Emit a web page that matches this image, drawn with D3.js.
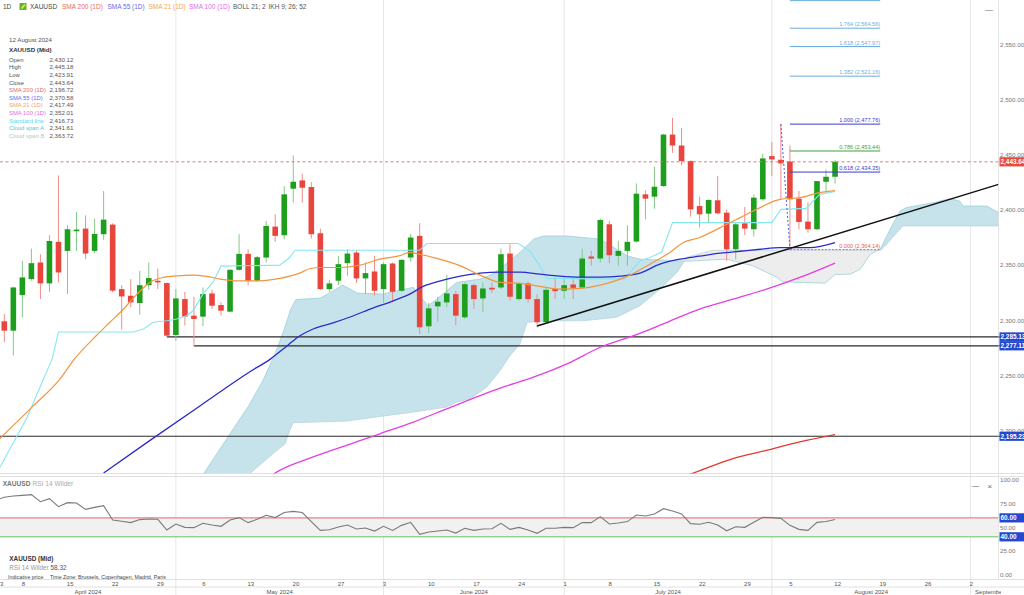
<!DOCTYPE html>
<html>
<head>
<meta charset="utf-8">
<script src="https://cdn.jsdelivr.net/npm/d3@7"></script>
<style>
  body { margin: 0; background: #fff; overflow: hidden; }
  svg { display: block; font-family: "Liberation Sans", Arial, sans-serif; }
</style>
</head>
<body>
<div id="chart"></div>
<script>
// ---- data ----
// candle index 0 = 4 April 2024, one index per trading day
const openP  = [2299.3,2290.8,2323.0,2337.5,2352.5,2333.6,2371.2,2363.0,2380.8,2383.2,2363.0,2378.1,2386.8,2328.4,2322.4,2315.8,2332.0,2336.0,2333.9,2286.9,2319.4,2304.4,2303.5,2324.5,2314.0,2308.0,2345.9,2360.3,2336.0,2357.0,2385.0,2377.2,2419.3,2426.8,2420.8,2379.0,2328.4,2336.0,2351.9,2361.5,2338.1,2344.4,2328.4,2351.6,2326.9,2357.0,2376.6,2294.8,2312.8,2316.4,2323.9,2302.9,2332.0,2320.0,2329.6,2329.9,2360.6,2319.4,2333.6,2319.4,2298.4,2328.4,2326.9,2332.6,2329.9,2357.9,2356.1,2387.1,2358.5,2363.0,2371.5,2414.2,2412.1,2421.7,2468.3,2458.4,2444.3,2403.6,2396.7,2408.8,2397.6,2364.5,2388.0,2382.6,2409.7,2448.8,2445.5,2443.9,2410.3,2389.5,2382.6,2425.6,2430.12];
const highP  = [2305.9,2330.5,2354.0,2365.1,2360.0,2377.2,2431.3,2386.2,2398.2,2395.2,2392.2,2417.2,2388.0,2332.0,2337.5,2345.0,2352.5,2347.1,2334.5,2328.4,2326.0,2321.5,2330.0,2328.0,2316.4,2346.5,2378.1,2364.5,2358.5,2390.1,2396.1,2421.7,2449.4,2432.8,2425.3,2383.2,2336.9,2358.5,2364.5,2363.9,2352.5,2358.5,2352.5,2352.5,2355.5,2378.1,2388.0,2315.8,2321.5,2341.1,2326.9,2334.5,2333.6,2334.5,2334.5,2365.1,2369.0,2335.1,2335.1,2323.9,2330.0,2339.0,2339.0,2337.5,2365.1,2363.0,2392.2,2390.1,2372.1,2386.2,2424.1,2417.8,2439.1,2469.0,2483.4,2474.3,2445.0,2412.1,2409.7,2430.7,2400.6,2388.6,2402.7,2414.2,2450.9,2461.7,2477.76,2458.4,2417.2,2406.7,2426.2,2436.7,2445.18];
const lowP   = [2280.3,2268.3,2302.9,2336.0,2319.4,2326.0,2334.5,2324.0,2363.0,2355.5,2361.0,2373.0,2325.4,2291.7,2311.9,2305.3,2327.8,2328.4,2285.13,2281.8,2295.4,2277.11,2295.0,2310.4,2304.4,2307.4,2345.0,2332.1,2335.1,2352.5,2371.2,2373.6,2406.7,2406.7,2374.2,2327.8,2326.0,2332.1,2340.5,2333.9,2323.9,2322.4,2316.4,2316.4,2326.0,2353.1,2287.9,2288.7,2299.0,2311.9,2295.9,2301.4,2310.4,2307.4,2324.8,2328.4,2317.9,2317.9,2316.4,2293.9,2296.9,2319.4,2319.4,2319.4,2328.4,2349.5,2352.5,2351.9,2349.5,2349.5,2370.6,2391.6,2401.2,2421.1,2451.8,2440.4,2394.0,2384.1,2388.6,2396.0,2354.0,2355.5,2377.2,2376.0,2408.2,2430.7,2409.7,2364.14,2382.6,2379.6,2382.0,2415.7,2423.91];
const closeP = [2290.8,2329.9,2339.0,2351.9,2333.6,2372.0,2343.5,2382.6,2382.3,2360.6,2378.4,2391.3,2327.0,2321.8,2316.4,2332.0,2338.4,2334.5,2286.3,2320.0,2303.5,2301.4,2323.9,2313.4,2308.9,2345.9,2360.3,2336.0,2357.3,2385.6,2376.6,2414.2,2425.6,2420.2,2378.1,2328.4,2333.6,2351.0,2360.6,2338.1,2342.9,2326.9,2351.0,2326.0,2354.9,2375.1,2293.9,2311.0,2317.0,2324.5,2304.4,2332.9,2319.4,2329.0,2328.1,2360.0,2321.5,2333.6,2319.4,2298.4,2327.8,2326.6,2332.0,2329.6,2356.1,2356.1,2391.0,2359.1,2363.0,2371.2,2414.8,2410.3,2421.1,2468.3,2458.4,2444.3,2400.6,2396.1,2409.1,2397.0,2364.5,2387.1,2383.2,2411.2,2446.7,2445.8,2442.2,2409.7,2389.2,2382.6,2426.2,2430.1,2443.64];

// indicator lines as [candle index, price]
const sma200 = [[75.9,2160.6],[77.6,2166.0],[80.7,2175.1],[84.4,2182.5],[88.1,2190.1],[92,2196.72]];
const sma55 = [[11,2162],[16.1,2191.3],[21.7,2222.9],[27.2,2253.6],[29.5,2265.3],[31.3,2277.0],[32.7,2286.0],[34.2,2292.3],[36.4,2297.8],[38.6,2304.1],[40.8,2311.3],[43,2317.6],[45.3,2325.7],[46,2329.3],[48.2,2335.6],[50.5,2340.2],[52.7,2342.9],[54.9,2343.8],[57.1,2343.8],[59.3,2342.0],[61.5,2340.2],[63.8,2339.3],[66,2339.3],[68.2,2340.2],[70.4,2342.9],[72.6,2351.0],[74.8,2355.5],[77,2358.2],[79.3,2360.9],[81.5,2362.7],[83.7,2364.5],[85.9,2366.0],[87.8,2366.0],[89.2,2366.0],[92,2370.58]];
const sma21 = [[-0.5,2193.2],[2.9,2220.3],[6.2,2247.4],[7.8,2265.4],[10.2,2286.4],[11.7,2298.4],[13.2,2310.4],[14.7,2323.9],[16.1,2334.5],[17.6,2339.0],[19.1,2340.4],[20.9,2341.1],[22.4,2339.9],[23.9,2337.5],[26.1,2335.9],[28.3,2335.9],[30.5,2338.1],[32.7,2342.9],[33.9,2347.1],[35,2348.0],[37.2,2348.0],[39.4,2350.1],[41.6,2355.5],[43.8,2358.7],[44.9,2361.6],[46,2360.0],[48.2,2355.5],[50.5,2349.5],[52.7,2341.1],[54.9,2334.5],[57.1,2333.6],[59.3,2330.9],[61.5,2328.4],[63.8,2329.1],[66,2332.0],[68.2,2337.5],[69.3,2341.1],[71.5,2351.0],[73.7,2361.6],[75.2,2370.6],[77,2375.1],[79.3,2384.1],[81.5,2393.1],[83.7,2402.2],[85.9,2409.7],[88.1,2411.2],[90.3,2415.7],[92,2417.49]];
const sma100 = [[29.4,2158.8],[30.2,2163.0],[34.2,2176.5],[37.9,2187.0],[41.6,2197.5],[45.3,2208.1],[49,2220.1],[52.7,2232.1],[54.9,2238.8],[58.6,2248.7],[62.3,2260.7],[66,2275.8],[69.7,2286.3],[73.4,2298.4],[77,2310.4],[80.7,2319.4],[84.4,2328.4],[88.1,2339.0],[92,2352.01]];
const standardLine = [[-0.5,2167],[2.5,2212],[5.3,2265.3],[6,2289.6],[14.3,2289.6],[15.4,2292.3],[16.5,2298.4],[18,2299.8],[19.1,2301.4],[20.2,2304.3],[20.9,2308.8],[22,2323.9],[23.1,2334.5],[24,2349.2],[30.5,2350.1],[31.6,2357.0],[32.2,2363.6],[46,2363.6],[46.8,2369.7],[56.9,2369.7],[58.2,2363.0],[59.3,2349.5],[60.1,2338.1],[68.7,2337.5],[69.3,2343.5],[70.4,2354.0],[71.5,2357.0],[72.8,2362],[74,2388.6],[85,2388.6],[86,2400.6],[88.8,2401.5],[90.3,2414.2],[92,2416.73]];
const spanA = [[21,2140],[22.2,2163],[25,2197.6],[27,2222],[28.6,2245],[30,2270],[31,2292],[31.7,2310],[32.3,2319],[35,2320.3],[37.5,2332],[39.1,2324.8],[41.9,2323.9],[45.3,2330],[46.9,2313.4],[47.9,2319.4],[49,2326.9],[50.1,2334.5],[52.7,2337.5],[54.1,2342],[56,2354],[57.1,2361.6],[58.6,2373.6],[59.7,2376.5],[62.3,2376.5],[66,2373.6],[69,2358.5],[70.4,2355.5],[75.6,2353.7],[80,2355.5],[82.9,2349.5],[85.6,2339],[86.2,2335],[90.9,2333.8],[92,2341.61],[93.7,2342],[94.8,2346.5],[95.9,2360],[97,2364.5],[98.1,2382.6],[99.2,2399.1],[99.9,2402.2],[102.9,2406.7],[104.7,2410.3],[105.8,2408.1],[106.2,2403.6],[108.8,2403.6],[110.5,2396]];
const spanB = [[21,2100],[26.1,2147.9],[27.4,2163],[30.2,2182.5],[31.1,2188.5],[31.6,2200.5],[32,2207.5],[34.2,2208.1],[37.9,2209],[41.6,2213.2],[45.3,2217.1],[49,2221.7],[50.1,2226.2],[51.6,2229.2],[53.4,2239.7],[54.9,2254.7],[56,2268.2],[57.1,2278.8],[57.9,2298.4],[60.4,2299.8],[64.1,2299.8],[67.8,2302.9],[70.4,2313.4],[72.6,2328.4],[74.5,2343.5],[75.6,2357.3],[78.5,2363.6],[92,2363.72],[97,2363.6],[97.2,2364.5],[99.5,2385.6],[110.5,2385.6]];

// RSI 14 Wilder, first value is 3 April (index -1)
const rsi = [78.5,81.7,83.1,83.8,84.5,77.1,80.3,71.8,76.1,75.7,69.0,71.1,72.9,57.8,56.4,55.0,58.2,58.8,58.5,47.2,53.5,50.0,49.7,54.3,52.5,51.1,57.8,60.3,55.0,58.5,62.7,60.3,65.6,66.9,65.6,56.1,46.8,47.5,50.4,52.5,48.3,49.3,46.1,51.1,46.8,52.1,55.3,42.6,45.1,46.1,47.2,44.0,49.0,46.8,48.3,48.6,54.3,47.9,50.0,47.2,43.7,49.0,49.0,50.0,49.7,55.0,55.0,61.3,53.5,54.6,56.1,63.0,62.0,64.1,69.7,67.3,64.1,53.9,53.2,55.3,52.5,46.4,50.7,50.0,55.3,60.6,60.3,59.5,52.1,47.9,46.8,55.3,56.1,58.32];

// horizontal levels, trend line, fibonacci
const supportPrices = [2285.13, 2277.11, 2195.23];
const supportStart  = [18, 21, -2];
const trendPts = [[59, 2295.0], [110.1, 2423.2]];
const fibLevels = [2, 1.764, 1.618, 1.382, 1, 0.786, 0.618, 0];
const fibPrices = [2591.38, 2564.56, 2547.97, 2521.16, 2477.76, 2453.44, 2434.35, 2364.14];
const fibColors = ["#6aaede","#6aaede","#6aaede","#6aaede","#3b3bcf","#3f9f3f","#3b3bcf","#e06060"];
const lastPrice = 2443.64;
const priceTicks = [2200, 2250, 2300, 2350, 2400, 2450, 2500, 2550];
const rsiTicks = [0, 25, 50, 75, 100];
const rsiBands = [60, 40];

const legendItems = [
  ["1D", "#444", 3], ["XAUUSD", "#444", 30], ["SMA 200 (1D)", "#e86a6a", 62],
  ["SMA 55 (1D)", "#6a6ae8", 107.5], ["SMA 21 (1D)", "#f0a456", 148.5],
  ["SMA 100 (1D)", "#e46ae4", 189], ["BOLL 21; 2", "#555", 233], ["IKH 9; 26; 52", "#555", 268.5]
];
const infoLabels = ["Open","High","Low","Close","SMA 200 (1D)","SMA 55 (1D)","SMA 21 (1D)","SMA 100 (1D)","Standard line","Cloud span A","Cloud span B"];
const infoValues = [2430.12, 2445.18, 2423.91, 2443.64, 2196.72, 2370.58, 2417.49, 2352.01, 2416.73, 2341.61, 2363.72];
const infoColors = ["#555","#555","#555","#555","#e86a6a","#6a6ae8","#f0a456","#e46ae4","#4fdcec","#6cbccc","#c4c4c4"];

// ---- layout ----
const W = 1024, H = 595;
const plotR = 998.5, priceBottom = 473.5, rsiTop = 476.5, rsiBottom = 579.5;
const fmt = d3.format(",.2f");

// trading days from 3 April; index = position - 1
const days = d3.utcDay.range(new Date(Date.UTC(2024, 3, 3)), new Date(Date.UTC(2024, 8, 7)))
  .filter(d => d.getUTCDay() > 0 && d.getUTCDay() < 6);
const dayIndex = k => k - 1;

const x = d3.scaleLinear().domain([0, 92]).range([4.3, 835.06]);
const y = d3.scaleLinear().domain([2200, 2550]).range([431, 44.3]);
const yR = d3.scaleLinear().domain([0, 100]).range([574.7, 480]);

const svg = d3.select("#chart").append("svg").attr("width", W).attr("height", H);
const defs = svg.append("defs");
defs.append("clipPath").attr("id", "priceClip").append("rect")
  .attr("x", 0).attr("y", 0).attr("width", plotR).attr("height", priceBottom);
defs.append("clipPath").attr("id", "rsiClip").append("rect")
  .attr("x", 0).attr("y", rsiTop).attr("width", plotR).attr("height", rsiBottom - rsiTop);
defs.append("clipPath").attr("id", "axisClip").append("rect")
  .attr("x", 0).attr("y", rsiBottom).attr("width", 1001).attr("height", H - rsiBottom);

// cloud clip regions
defs.append("clipPath").attr("id", "belowA").append("path")
  .attr("d", d3.area().x(d => x(d[0])).y0(d => y(d[1])).y1(priceBottom + 50)(spanA));
defs.append("clipPath").attr("id", "belowB").append("path")
  .attr("d", d3.area().x(d => x(d[0])).y0(d => y(d[1])).y1(priceBottom + 50)(spanB));

// ---- grid and panel frames ----
const monthStarts = [];
days.forEach((d, k) => {
  if (k > 0 && d.getUTCMonth() !== days[k - 1].getUTCMonth()) monthStarts.push(k);
});
svg.append("g").selectAll("line").data(monthStarts).join("line")
  .attr("x1", k => x(dayIndex(k))).attr("x2", k => x(dayIndex(k)))
  .attr("y1", 0).attr("y2", H)
  .attr("stroke", "#e6e6e6").attr("stroke-width", 1);

svg.append("line").attr("x1", plotR).attr("x2", plotR).attr("y1", 0).attr("y2", rsiBottom)
  .attr("stroke", "#e4e4e4");
[priceBottom, rsiTop, rsiBottom, 587].forEach(v => {
  svg.append("line").attr("x1", 0).attr("x2", W).attr("y1", v).attr("y2", v)
    .attr("stroke", "#e0e0e0");
});

// ---- price panel ----
const price = svg.append("g").attr("clip-path", "url(#priceClip)");

// ichimoku cloud: blue where span A is on top, grey where span B is on top
price.append("g").attr("clip-path", "url(#belowA)").append("path")
  .attr("d", d3.area().x(d => x(d[0])).y0(-50).y1(d => y(d[1]))(spanB))
  .attr("fill", "#c6e3eb");
price.append("g").attr("clip-path", "url(#belowB)").append("path")
  .attr("d", d3.area().x(d => x(d[0])).y0(-50).y1(d => y(d[1]))(spanA))
  .attr("fill", "#ededed");
const lineLin = d3.line().x(d => x(d[0])).y(d => y(d[1]));
price.append("path").attr("d", lineLin(spanA)).attr("fill", "none")
  .attr("stroke", "#9ccfdb").attr("stroke-width", 0.8);
price.append("path").attr("d", lineLin(spanB)).attr("fill", "none")
  .attr("stroke", "#b6d4dc").attr("stroke-width", 0.8);

// horizontal support levels
supportPrices.forEach((p, k) => {
  price.append("line")
    .attr("x1", x(supportStart[k])).attr("x2", plotR)
    .attr("y1", y(p)).attr("y2", y(p))
    .attr("stroke", "#2a2a2a").attr("stroke-width", 1.2);
});

// candles
const candles = d3.range(openP.length);
const up = i => closeP[i] >= openP[i];
price.append("g").selectAll("line").data(candles).join("line")
  .attr("x1", i => x(i)).attr("x2", i => x(i))
  .attr("y1", i => y(highP[i])).attr("y2", i => y(lowP[i]))
  .attr("stroke", i => up(i) ? "#86c886" : "#ef8d88").attr("stroke-width", 1);
price.append("g").selectAll("rect").data(candles).join("rect")
  .attr("x", i => x(i) - 2.8).attr("width", 5.6)
  .attr("y", i => y(Math.max(openP[i], closeP[i])))
  .attr("height", i => Math.max(1.2, Math.abs(y(openP[i]) - y(closeP[i]))))
  .attr("fill", i => up(i) ? "#1d9f1d" : "#e8463d");

// indicator lines
const smooth = d3.line().x(d => x(d[0])).y(d => y(d[1])).curve(d3.curveMonotoneX);
price.append("path").attr("d", lineLin(standardLine)).attr("fill", "none")
  .attr("stroke", "#86e6f0").attr("stroke-width", 1.1);
price.append("path").attr("d", smooth(sma100)).attr("fill", "none")
  .attr("stroke", "#e43ee4").attr("stroke-width", 1.3);
price.append("path").attr("d", smooth(sma200)).attr("fill", "none")
  .attr("stroke", "#e2382e").attr("stroke-width", 1.3);
price.append("path").attr("d", smooth(sma55)).attr("fill", "none")
  .attr("stroke", "#2b2bcc").attr("stroke-width", 1.3);
price.append("path").attr("d", smooth(sma21)).attr("fill", "none")
  .attr("stroke", "#f2963e").attr("stroke-width", 1.2);

// trend line
price.append("path").attr("d", lineLin(trendPts)).attr("fill", "none")
  .attr("stroke", "#111").attr("stroke-width", 1.5);

// fibonacci extension from the 2 Aug high to the 5 Aug low
const fibHiIdx = 86, fibLoIdx = 87, fibEndIdx = 97;
price.append("line")
  .attr("x1", x(fibHiIdx)).attr("y1", y(fibPrices[4]))
  .attr("x2", x(fibLoIdx)).attr("y2", y(fibPrices[7]))
  .attr("stroke", "#5a5ad6").attr("stroke-width", 1).attr("stroke-dasharray", "2,2");
fibLevels.forEach((lv, k) => {
  const yy = Math.max(0.6, y(fibPrices[k]));
  price.append("line")
    .attr("x1", x(fibLoIdx)).attr("x2", x(fibEndIdx))
    .attr("y1", yy).attr("y2", yy)
    .attr("stroke", fibColors[k]).attr("stroke-width", 1)
    .attr("stroke-dasharray", lv === 0 ? "2,1.5" : null);
  if (yy > 5) {
    price.append("text")
      .attr("x", x(fibEndIdx)).attr("y", yy - 2)
      .attr("text-anchor", "end").attr("font-size", 5.6)
      .attr("fill", fibColors[k])
      .text(`${lv.toFixed(3)} (${fmt(fibPrices[k])})`);
  }
});

// last price line
price.append("line").attr("x1", 0).attr("x2", plotR)
  .attr("y1", y(lastPrice)).attr("y2", y(lastPrice))
  .attr("stroke", "#e86a6a").attr("stroke-width", 0.9).attr("stroke-dasharray", "3,2.5");

// ---- price axis ----
svg.append("g").selectAll("text").data(priceTicks).join("text")
  .attr("x", 1000).attr("y", p => y(p) + 2.2)
  .attr("font-size", 6.2).attr("fill", "#777")
  .text(p => fmt(p));

function axisBox(yc, label, fill) {
  svg.append("rect").attr("x", 999.5).attr("y", yc - 4.6).attr("width", 24.5).attr("height", 9.2)
    .attr("fill", fill);
  svg.append("text").attr("x", 1000.5).attr("y", yc + 2.3)
    .attr("font-size", 6.4).attr("fill", "#fff").attr("font-weight", "bold").text(label);
}
supportPrices.forEach(p => {
  svg.append("line").attr("x1", plotR).attr("x2", 1000).attr("y1", y(p)).attr("y2", y(p))
    .attr("stroke", "#2a2a2a");
  axisBox(y(p), fmt(p), "#2448d0");
});
axisBox(y(lastPrice), fmt(lastPrice), "#e84a40");

// ---- RSI panel ----
const rsiG = svg.append("g").attr("clip-path", "url(#rsiClip)");
rsiG.append("rect").attr("x", 0).attr("width", plotR)
  .attr("y", yR(rsiBands[0])).attr("height", yR(rsiBands[1]) - yR(rsiBands[0]))
  .attr("fill", "#f1f1f1");
rsiG.append("line").attr("x1", 0).attr("x2", plotR)
  .attr("y1", yR(rsiBands[0])).attr("y2", yR(rsiBands[0]))
  .attr("stroke", "#e86464").attr("stroke-width", 1);
rsiG.append("line").attr("x1", 0).attr("x2", plotR)
  .attr("y1", yR(rsiBands[1])).attr("y2", yR(rsiBands[1]))
  .attr("stroke", "#66c266").attr("stroke-width", 1);
rsiG.append("path")
  .attr("d", d3.line().x((d, k) => x(k - 1)).y(d => yR(d))(rsi))
  .attr("fill", "none").attr("stroke", "#7a7a7a").attr("stroke-width", 1.1);

svg.append("g").selectAll("text").data(rsiTicks).join("text")
  .attr("x", 1000).attr("y", r => yR(r) + 2.2)
  .attr("font-size", 6.2).attr("fill", "#777")
  .text(r => r.toFixed(2));
rsiBands.forEach(r => axisBox(yR(r), r.toFixed(2), "#2448d0"));

// ---- time axis ----
const axisG = svg.append("g").attr("clip-path", "url(#axisClip)");
const tickDays = days.map((d, k) => [d, k]).filter(([d, k]) => k === 0 || d.getUTCDay() === 1);
axisG.selectAll("text.day").data(tickDays).join("text")
  .attr("class", "day")
  .attr("x", ([d, k]) => Math.max(0, x(dayIndex(k)) - 0.7))
  .attr("y", 586)
  .attr("font-size", 6).attr("fill", "#555")
  .text(([d]) => d.getUTCDate());

const monthFmt = d3.utcFormat("%B %Y");
const monthSpans = [0].concat(monthStarts).map((k, m, arr) => {
  const a = m === 0 ? 0 : x(dayIndex(k));
  const b = m + 1 < arr.length ? x(dayIndex(arr[m + 1])) : W;
  return [days[k], (a + b) / 2];
});
axisG.selectAll("text.month").data(monthSpans).join("text")
  .attr("class", "month")
  .attr("x", d => d[1]).attr("y", 593.5)
  .attr("text-anchor", "middle")
  .attr("font-size", 6).attr("fill", "#555")
  .text(d => monthFmt(d[0]));

// ---- legends and labels ----
svg.append("rect").attr("x", 19.5).attr("y", 3).attr("width", 7).attr("height", 7)
  .attr("fill", "#58b82c");
svg.append("path").attr("d", "M21.5,8.5 L25,4.5").attr("stroke", "#f2e24a").attr("stroke-width", 1.6);
svg.append("g").selectAll("text").data(legendItems).join("text")
  .attr("x", d => d[2]).attr("y", 9)
  .attr("font-size", 6.5).attr("fill", d => d[1])
  .text(d => d[0]);

svg.append("text").attr("x", 9).attr("y", 42).attr("font-size", 6.2).attr("fill", "#555")
  .text("12 August 2024");
svg.append("text").attr("x", 9).attr("y", 52.3).attr("font-size", 6.2).attr("fill", "#333")
  .attr("font-weight", "bold").text("XAUUSD (Mid)");
const rowY = k => 61.6 + k * 7.64;
svg.append("g").selectAll("text").data(infoLabels).join("text")
  .attr("x", 9).attr("y", (d, k) => rowY(k))
  .attr("font-size", 5.9).attr("fill", (d, k) => infoColors[k]).text(d => d);
svg.append("g").selectAll("text").data(infoValues).join("text")
  .attr("x", 73.5).attr("y", (d, k) => rowY(k)).attr("text-anchor", "end")
  .attr("font-size", 6.2).attr("fill", "#555").text(d => fmt(d));

svg.append("text").attr("x", 985).attr("y", 12).attr("font-size", 8).attr("fill", "#666").text("—");
svg.append("text").attr("x", 972).attr("y", 488).attr("font-size", 7).attr("fill", "#666").text("—");
svg.append("text").attr("x", 987.5).attr("y", 488.5).attr("font-size", 8).attr("fill", "#666").text("×");

svg.append("text").attr("x", 2.7).attr("y", 485.8).attr("font-size", 6.6)
  .attr("fill", "#777").attr("font-weight", "bold").text("XAUUSD");
svg.append("text").attr("x", 32.5).attr("y", 485.8).attr("font-size", 6.6)
  .attr("fill", "#aaa").text("RSI 14 Wilder");
svg.append("text").attr("x", 9.3).attr("y", 560.8).attr("font-size", 6.4)
  .attr("fill", "#333").attr("font-weight", "bold").text("XAUUSD (Mid)");
svg.append("text").attr("x", 9.3).attr("y", 569.8).attr("font-size", 6.4)
  .attr("fill", "#999").text("RSI 14 Wilder ")
  .append("tspan").attr("fill", "#555").text(rsi[rsi.length - 1].toFixed(2));
svg.append("text").attr("x", 8).attr("y", 578.6).attr("font-size", 5.3)
  .attr("fill", "#444").text("Indicative price");
svg.append("text").attr("x", 50).attr("y", 578.6).attr("font-size", 5.3)
  .attr("fill", "#444").text("Time Zone: Brussels, Copenhagen, Madrid, Paris");
</script>
</body>
</html>
